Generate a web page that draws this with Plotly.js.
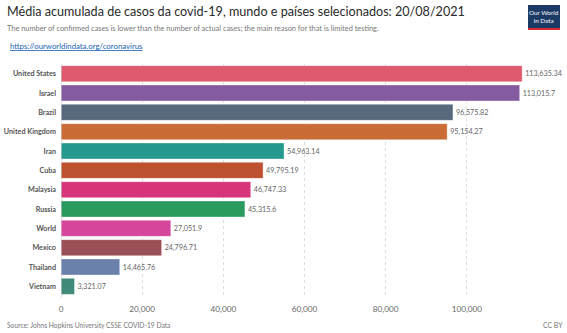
<!DOCTYPE html>
<html>
<head>
<meta charset="utf-8">
<script src="https://cdn.plot.ly/plotly-3.0.1.min.js"></script>
<style>
  html, body { margin: 0; padding: 0; background: #fff; }
  #chart { width: 567px; height: 333px; }
</style>
</head>
<body>
<div id="chart"></div>
<script>
// Cumulative average of confirmed cases per country (20/08/2021)
const countries = ["United States", "Israel", "Brazil", "United Kingdom", "Iran", "Cuba",
                   "Malaysia", "Russia", "World", "Mexico", "Thailand", "Vietnam"];
const cases = [113635.34, 113015.7, 96575.82, 95154.27, 54963.14, 49795.19,
               46747.33, 45315.6, 27051.9, 24796.71, 14465.76, 3321.07];
const barColors = ["#DF5A6C", "#845BA0", "#58687D", "#CA6C35", "#26998E", "#BD5130",
                   "#D6357A", "#2A9A5D", "#D5479A", "#9B4F56", "#6A81AC", "#3F8A78"];
const xTicks = [0, 20000, 40000, 60000, 80000, 100000];
const xTickLabels = ["0", "20,000", "40,000", "60,000", "80,000", "100,000"];

const labels = cases.map(v => v.toLocaleString("en-US", { maximumFractionDigits: 2 }));

// plot area in pixels, used to place the header/footer items
const W = 567, H = 333, L = 61, R = 19, T = 64, B = 37;
const PW = W - L - R, PH = H - T - B;
const px = x => (x - L) / PW;
const py = y => (H - B - y) / PH;

const trace = {
  type: "bar",
  orientation: "h",
  y: countries,
  x: cases,
  marker: { color: barColors, line: { width: 1, color: "rgba(255,255,255,0.35)" } },
  text: labels,
  textposition: "outside",
  cliponaxis: false,
  textfont: { family: "Lato, sans-serif", size: 7.2, color: "#666" },
  hoverinfo: "none"
};

const layout = {
  width: W,
  height: H,
  margin: { l: L, r: R, t: T, b: B },
  paper_bgcolor: "#fff",
  plot_bgcolor: "#fff",
  showlegend: false,
  bargap: 0.17,
  font: { family: "Lato, sans-serif" },
  xaxis: {
    range: [0, 120000],
    tickvals: xTicks,
    ticktext: xTickLabels,
    tickfont: { size: 8.2, color: "#666" },
    showgrid: true,
    gridcolor: "#ddd",
    griddash: "dot",
    gridwidth: 1,
    zeroline: false,
    showline: false,
    ticks: "",
    ticklabelstandoff: 7,
    fixedrange: true
  },
  yaxis: {
    autorange: "reversed",
    tickfont: { size: 7.2, color: "#555", family: "Lato, sans-serif", weight: "bold" },
    ticks: "",
    ticklabelstandoff: 4,
    showgrid: false,
    zeroline: false,
    showline: false,
    fixedrange: true
  },
  shapes: [
    // baseline at zero
    { type: "line", xref: "x", yref: "paper", x0: 0, x1: 0, y0: py(298), y1: py(64),
      line: { color: "#ccc", width: 1 } },
    // logo box
    { type: "rect", xref: "paper", yref: "paper", x0: px(528), x1: px(560), y0: py(30), y1: py(5),
      fillcolor: "#1B3A66", line: { width: 0 } },
    { type: "rect", xref: "paper", yref: "paper", x0: px(528), x1: px(560), y0: py(30), y1: py(28),
      fillcolor: "#D42B2B", line: { width: 0 } }
  ],
  annotations: [
    { text: "Média acumulada de casos da covid-19, mundo e países selecionados: 20/08/2021",
      xref: "paper", yref: "paper", x: px(5), y: py(11), xanchor: "left", yanchor: "middle",
      showarrow: false,
      font: { family: "Lato, sans-serif", size: 12.6, color: "#2a2a2a" } },
    { text: "The number of confirmed cases is lower than the number of actual cases; the main reason for that is limited testing.",
      xref: "paper", yref: "paper", x: px(5), y: py(28), xanchor: "left", yanchor: "middle",
      showarrow: false,
      font: { family: "Lato, sans-serif", size: 7.4, color: "#777" } },
    { text: "<u>https://ourworldindata.org/coronavirus</u>",
      xref: "paper", yref: "paper", x: px(8), y: py(46), xanchor: "left", yanchor: "middle",
      showarrow: false,
      font: { family: "Lato, sans-serif", size: 7.8, color: "#1a5fb4" } },
    { text: "Our World<br>in Data",
      xref: "paper", yref: "paper", x: px(544), y: py(16.5), xanchor: "center", yanchor: "middle",
      showarrow: false,
      font: { family: "Lato, sans-serif", size: 6.3, color: "#fff" } },
    { text: "Source: Johns Hopkins University CSSE COVID-19 Data",
      xref: "paper", yref: "paper", x: px(5), y: py(325), xanchor: "left", yanchor: "middle",
      showarrow: false,
      font: { family: "Lato, sans-serif", size: 6.7, color: "#777" } },
    { text: "CC BY",
      xref: "paper", yref: "paper", x: px(565), y: py(325), xanchor: "right", yanchor: "middle",
      showarrow: false,
      font: { family: "Lato, sans-serif", size: 6.9, color: "#777" } }
  ]
};

Plotly.newPlot("chart", [trace], layout, { displayModeBar: false, staticPlot: true });
</script>
</body>
</html>
